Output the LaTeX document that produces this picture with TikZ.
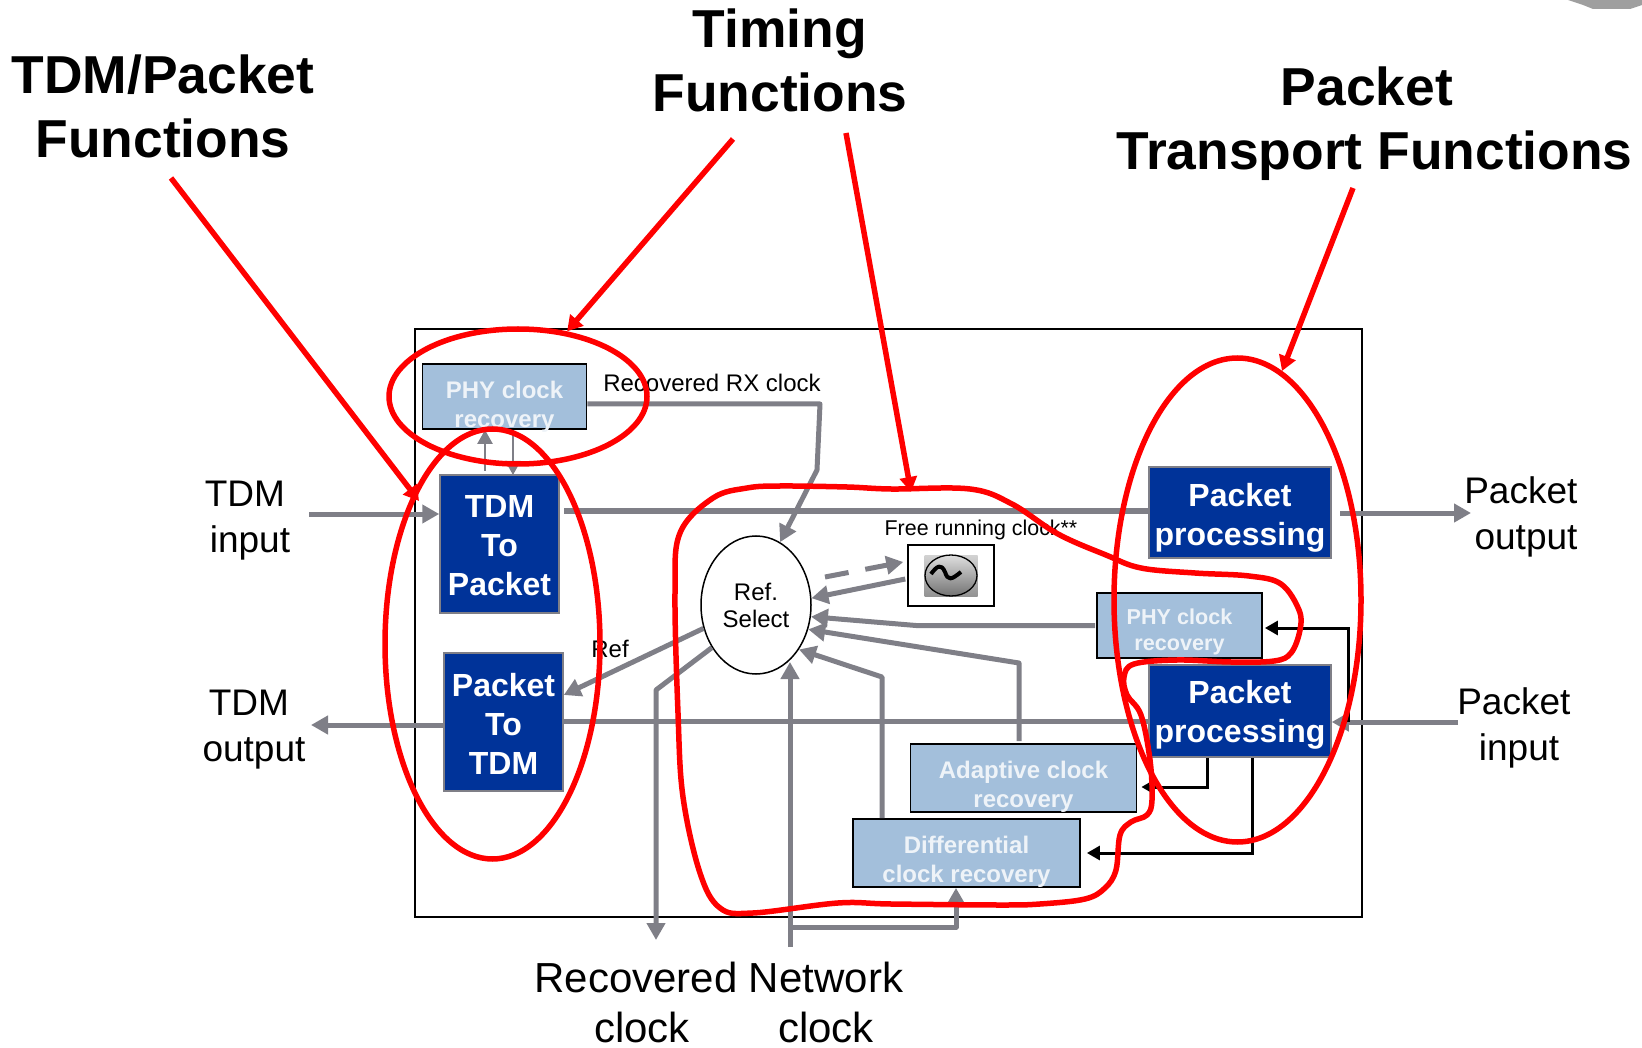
\documentclass[tikz,border=0pt]{standalone}
\usepackage{fontspec}
\setmainfont{Liberation Sans}
\usetikzlibrary{shapes.geometric,arrows.meta}

\definecolor{darkBlue}{HTML}{003399}
\definecolor{lightBlue}{HTML}{A3BFDB}
\definecolor{lightText}{HTML}{EEF3F8}
\definecolor{lineGray}{HTML}{7F7F87}

\tikzstyle{darkBox} = [rectangle, draw=lineGray, line width=1.5pt, fill=darkBlue, text=white, align=center, inner sep=0pt, font=\fontsize{32}{39}\selectfont\bfseries]
\tikzstyle{lightBox} = [rectangle, draw=black, line width=1.8pt, fill=lightBlue, text=lightText, align=center, inner sep=0pt, text height=58pt, font=\fontsize{24}{29}\selectfont\bfseries]
\tikzstyle{title} = [align=center, inner sep=0pt, font=\fontsize{53.4}{64}\selectfont\bfseries]
\tikzstyle{sideLabel} = [align=center, inner sep=0pt, font=\fontsize{37}{46}\selectfont]
\tikzstyle{bottomLabel} = [align=center, inner sep=0pt, font=\fontsize{42}{50}\selectfont]
\tikzstyle{smallLabel} = [align=center, inner sep=0pt, font=\fontsize{24}{27}\selectfont]
\tikzstyle{redOval} = [ellipse, draw=red, line width=5.5pt, inner sep=0pt]
\tikzstyle{grayArrow} = [line width=5pt, lineGray, line join=round, ->, >={Triangle[width=18pt,length=17pt]}]
\tikzstyle{grayLine} = [line width=5.5pt, lineGray, line join=round]
\tikzstyle{thinArrow} = [line width=2.5pt, lineGray, ->, >={Triangle[width=15pt,length=14pt]}]
\tikzstyle{blackArrow} = [line width=3pt, black, ->, >={Triangle[width=14pt,length=13pt]}]
\tikzstyle{redArrow} = [line width=5.5pt, red, ->, >={Triangle[width=17pt,length=15pt]}]

\begin{document}
\begin{tikzpicture}[x=1pt,y=-1pt,node distance=100pt]
    \useasboundingbox (0,0) rectangle (1642,1048);
    \fill [gray!75] (1568,0) -- (1583,5) -- (1593,9) -- (1630,9) -- (1642,5) -- (1642,0) -- cycle;

    \node (frame)[draw=black, line width=1.5pt, minimum width=947pt, minimum height=588pt, inner sep=0pt] at (888.5,623) {};

    \node (tdmToPacket)[darkBox, minimum width=119pt, minimum height=138pt, text height=103pt] at (499.5,544) {TDM\\To\\Packet};
    \node (packetToTdm)[darkBox, below of=tdmToPacket, xshift=4pt, yshift=-78pt, minimum width=119pt, minimum height=138pt, text height=105pt] {Packet\\To\\TDM};
    \node (phyTop)[lightBox, above of=tdmToPacket, xshift=5pt, yshift=47.5pt, minimum width=164pt, minimum height=65pt, text height=62pt, text depth=0pt] {PHY clock\\recovery};
    \node (refSelect)[ellipse, draw=black, line width=1.5pt, fill=white, smallLabel, minimum width=110pt, minimum height=138pt] at (756,605) {Ref.\\Select};
    \node (clockBox)[draw=black, line width=1.5pt, fill=white, minimum width=86pt, minimum height=61pt, inner sep=0pt] at (951,575.5) {};
    \node (clockIcon)[top color=gray!35, bottom color=gray!85, minimum width=53pt, minimum height=41pt, inner sep=0pt] at (clockBox) {};
    \node (clockDial)[ellipse, draw=black, line width=1.3pt, top color=gray!25, bottom color=gray!90!black, minimum width=52pt, minimum height=41pt, inner sep=0pt] at (clockBox) {};
    \node (pktTop)[darkBox, minimum width=182pt, minimum height=91pt, text height=73pt] at (1240,512.5) {Packet\\processing};
    \node (pktBottom)[darkBox, below of=pktTop, yshift=-98.5pt, minimum width=182pt, minimum height=92pt, text height=70pt] {Packet\\processing};
    \node (phyRight)[lightBox, below of=pktTop, xshift=-60.5pt, yshift=-13pt, minimum width=165pt, minimum height=65pt, font=\fontsize{21.6}{26}\selectfont\bfseries, text height=54pt] {PHY clock\\recovery};
    \node (adaptive)[lightBox, minimum width=226pt, minimum height=68pt, text height=58pt, text depth=0pt] at (1023.5,778) {Adaptive clock\\recovery};
    \node (differential)[lightBox, below of=adaptive, xshift=-57pt, yshift=25pt, minimum width=227pt, minimum height=68pt, text height=59pt, text depth=0pt] {Differential\\clock recovery};

    \node (titleTdm)[title] at (163,106.5) {TDM/Packet\\Functions};
    \node (titleTiming)[title] at (780,60) {Timing\\Functions};
    \node (titlePacket)[title] at (1374.5,124) {\mbox{Packet~}\\Transport Functions};
    \node (tdmInput)[sideLabel] at (250,521) {\mbox{TDM~}\\input};
    \node (tdmOutput)[sideLabel] at (254,730) {\mbox{TDM~}\\output};
    \node (pktOutput)[sideLabel] at (1526,517) {\mbox{Packet~}\\output};
    \node (pktInput)[sideLabel] at (1519,728) {\mbox{Packet~}\\input};
    \node (recClock)[bottomLabel] at (642,1002) {\mbox{Recovered~}\\clock};
    \node (netClock)[bottomLabel] at (826,1002) {Network\\clock};
    \node (rxLabel)[smallLabel] at (712,383) {Recovered RX clock};
    \node (freeLabel)[smallLabel, font=\fontsize{21.4}{26}\selectfont] at (981,530) {Free running clock**};
    \node (refLabel)[smallLabel] at (610,649) {Ref};

    % free ends
    \coordinate (tdmInStart) at (309,514);
    \coordinate (tdmOutStart) at (564,511);
    \coordinate (pktOutStart) at (1340,513);
    \coordinate (pktOutEnd) at (1471,513);
    \coordinate (pktInStart) at (1458,722);
    \coordinate (lowerStart) at (562,721.5);
    \coordinate (tdmOutEnd) at (311,725);
    \coordinate (recEnd) at (656,940);
    \coordinate (netStart) at (790,947);
    \coordinate (netTip) at (790,662);
    \coordinate (netTap) at (790,927);
    \coordinate (diffTap) at (956,927);
    \coordinate (pktInTap) at (1348,722);
    \coordinate (phyTap) at (1348,628);
    \coordinate (phyUp) at (485,471);
    \coordinate (phyDown) at (513,475);
    \coordinate (adaptiveTap) at (1207,787);
    \coordinate (differentialTap) at (1252,853);
    \coordinate (dashStart) at (825,577);

    \draw [grayArrow] (tdmInStart) -- (tdmToPacket.west |- tdmInStart);
    \draw [grayLine] (tdmOutStart) -- (pktTop.west |- tdmOutStart);
    \draw [grayArrow] (pktOutStart) -- (pktOutEnd);
    \draw [grayLine] (lowerStart) -- (pktBottom.west |- lowerStart);
    \draw [grayArrow] (pktInStart) -- (pktBottom.east |- pktInStart);
    \draw [grayArrow] (packetToTdm.west |- tdmOutEnd) -- (tdmOutEnd);
    \draw [thinArrow] (phyUp) -- (phyUp |- phyTop.south);
    \draw [thinArrow] (phyDown |- phyTop.south) -- (phyDown);
    \draw [grayArrow] ([yshift=-7.5pt]phyTop.east) -- (820,404) -- (817,470) -- (refSelect.69);
    \draw [grayArrow, dash pattern=on 24pt off 17pt] (dashStart) -- ([yshift=13.5pt,xshift=-4pt]clockBox.west);
    \draw [grayArrow] ([xshift=-2pt,yshift=-3.5pt]clockBox.west) -- (refSelect.7);
    \draw [grayArrow] ([xshift=-1pt]phyRight.west) -- (916,625.5) -- (refSelect.-12);
    \draw [grayArrow] ([xshift=-4.5pt,yshift=2pt]adaptive.north) -- (1019,663) -- (refSelect.-25);
    \draw [grayArrow] ([xshift=-84.5pt]differential.north) -- (882,677) -- (refSelect.-46);
    \draw [grayArrow] (netStart) -- (netTip);
    \draw [grayArrow] (netTap) -- (diffTap) -- (diffTap |- differential.south);
    \draw [grayArrow] (refSelect.-136) -- (656,690) -- (recEnd);
    \draw [grayArrow] (refSelect.-156) -- ([yshift=27pt]packetToTdm.east);

    \draw [blackArrow, shorten >=2pt] (pktInTap) -- (phyTap) -- (phyRight.east |- phyTap);
    \draw [blackArrow, shorten >=4pt] (adaptiveTap |- pktBottom.south) -- (adaptiveTap) -- (adaptive.east |- adaptiveTap);
    \draw [blackArrow, shorten >=6pt] (differentialTap |- pktBottom.south) -- (differentialTap) -- (differential.east);

    \draw [line width=4pt, black, line join=round] (931,574) .. controls (937,566) and (941,563) .. (945,572) .. controls (948,581) and (951,580) .. (961,572);

    % red outlines
    \node (topOval)[redOval, minimum width=258pt, minimum height=135pt] at (518,396.5) {};
    \node (leftOval)[redOval, minimum width=215pt, minimum height=430pt] at (492.5,644) {};
    \node (rightOval)[redOval, minimum width=247pt, minimum height=484pt] at (1237.5,600) {};
    \draw [red, line width=5.5pt] plot [smooth cycle, tension=0.6] coordinates {(838,903) (753,913) (720,908) (700,873) (683,797) (678,713) (675,593) (680,533) (713,498) (747,488) (780,486) (847,487) (891,489) (970,489) (1012,504) (1058,534) (1106,555) (1141,568) (1195,573) (1249,576) (1281,584) (1299,610) (1300,630) (1291,653) (1274,661) (1231,662) (1177,660) (1134,664) (1124,677) (1127,695) (1141,715) (1150,760) (1152,800) (1147,815) (1131,822) (1120,835) (1116,870) (1105,888) (1085,899) (1040,904) (999,905) (891,904)};

    \coordinate (tdmRedStart) at (171,178);
    \coordinate (tdmRedTip) at (419,501);
    \coordinate (timingRedA) at (733,139);
    \coordinate (timingRedB) at (846,133);
    \coordinate (timingRedTip) at (911,492);
    \coordinate (pktRedStart) at (1353,188);
    \draw [redArrow] (tdmRedStart) -- (tdmRedTip);
    \draw [redArrow] (timingRedA) -- (topOval.53);
    \draw [redArrow] (timingRedB) -- (timingRedTip);
    \draw [redArrow] (pktRedStart) -- (rightOval.79);

\end{tikzpicture}
\end{document}
